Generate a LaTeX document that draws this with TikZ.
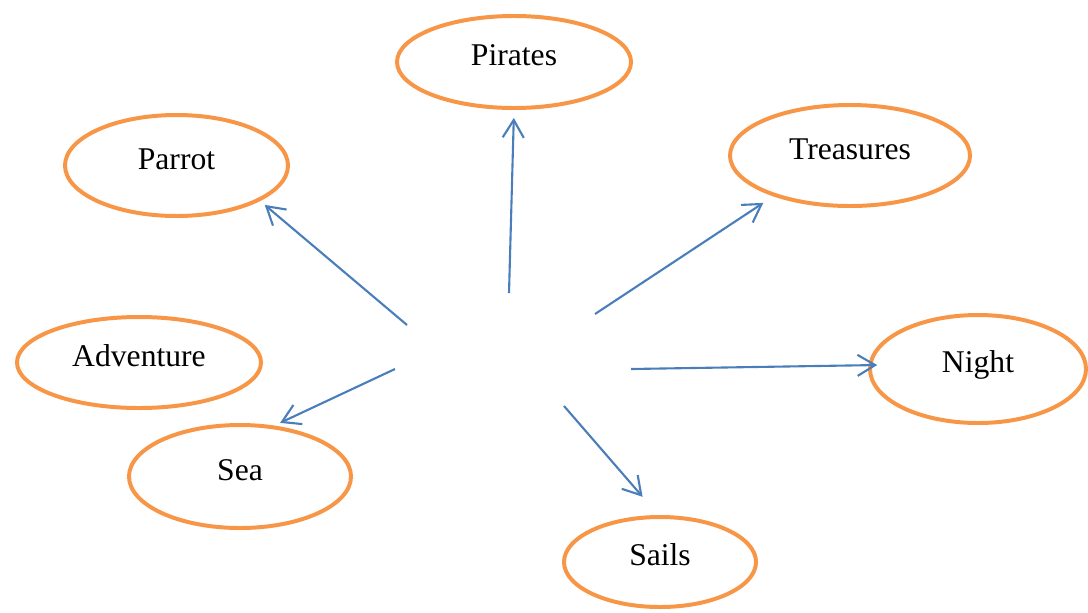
\documentclass[tikz,border=0pt]{standalone}
\usepackage{fontspec}
\setmainfont{Liberation Serif}
\usepackage{tikz}
\usetikzlibrary{shapes.geometric}
\usetikzlibrary{arrows.meta}

\definecolor{ideaOrange}{HTML}{F79646}
\definecolor{arrowBlue}{HTML}{4A7EBB}

\begin{document}
\begin{tikzpicture} [>={Straight Barb[length=7.5pt, width=9pt]}, x=0.015cm, y=-0.015cm]
            \useasboundingbox (0,0) rectangle (1088,612);
            % Set primary nodes
            \tikzset{
                ideaNode/.style={
                        draw = ideaOrange,
                        ellipse,
                        line width = 1.7pt,
                        text height = 9pt,
                        text depth = 6pt,
                        font = \fontsize{13.5}{16}\selectfont
                    }
            }
            \tikzset{
                link/.style={
                        ->,
                        draw = arrowBlue,
                        line width = 0.9pt
                    }
            }
            % Placing nodes
            \node[ideaNode, minimum width = 3.51cm, minimum height = 1.38cm](pirates) at (514,62){Pirates};
            \node[ideaNode, minimum width = 3.345cm, minimum height = 1.515cm](parrot) at (176.5,165.5){Parrot};
            \node[ideaNode, minimum width = 3.6cm, minimum height = 1.515cm](treasures) at (850,155.5){Treasures};
            \node[ideaNode, minimum width = 3.66cm, minimum height = 1.365cm](adventure) at (139,362.5){Adventure};
            \node[ideaNode, minimum width = 3.24cm, minimum height = 1.62cm](night) at (978,369){Night};
            \node[ideaNode, minimum width = 3.33cm, minimum height = 1.545cm](sea) at (240,476.5){Sea};
            \node[ideaNode, minimum width = 2.88cm, minimum height = 1.35cm](sails) at (660,562){Sails};
            % Arrow starts
            \coordinate (sPirates) at (509,293);
            \coordinate (sParrot) at (407,325);
            \coordinate (sTreasures) at (595,314);
            \coordinate (sNight) at (631,369);
            \coordinate (sSea) at (395,369);
            \coordinate (sSails) at (564,406);
            % Placing arrows
            \draw[link, shorten >= 3.4pt](sPirates) -- (pirates.south);
            \draw[link, shorten >= 2.6pt](sParrot) -- (parrot.-23);
            \draw[link, shorten >= 5.1pt](sTreasures) -- (treasures.208);
            \draw[link, shorten >= -3.8pt](sNight) -- (night.178);
            \draw[link, shorten >= 2.7pt](sSea) -- (sea.56);
            \draw[link, shorten >= 10.3pt](sSails) -- (sails.92);
        \end{tikzpicture}
\end{document}
